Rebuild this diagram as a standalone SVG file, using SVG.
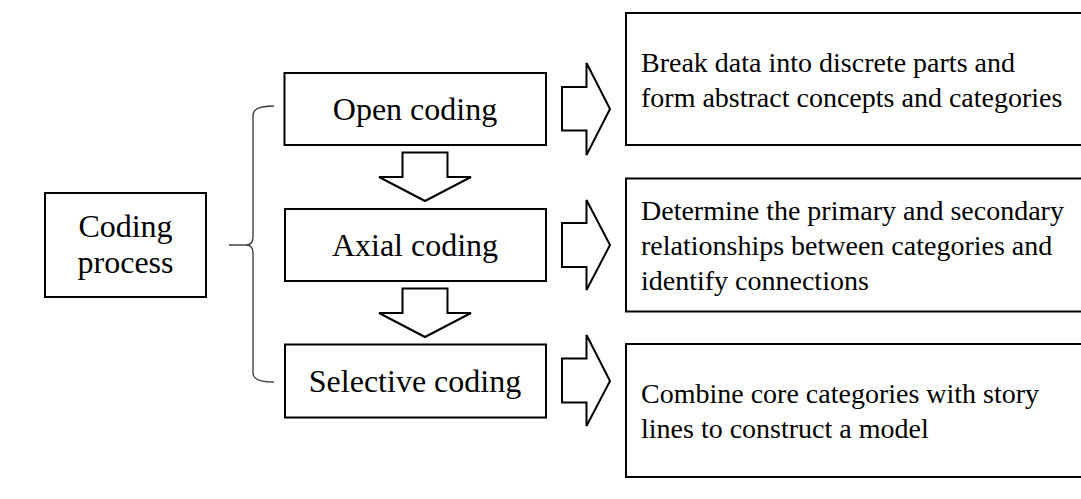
<svg xmlns="http://www.w3.org/2000/svg" width="1081" height="499" viewBox="0 0 1081 499">
<style>
.box{fill:#fff;stroke:#000;stroke-width:2}
.arr{fill:#fff;stroke:#000;stroke-width:2;stroke-linejoin:miter}
.brace{fill:none;stroke:#444;stroke-width:1.4}
.t1{font-family:"Liberation Serif","Times New Roman",serif;font-size:32px;fill:#000;text-anchor:middle}
.t2{font-family:"Liberation Serif","Times New Roman",serif;font-size:28px;fill:#000}
</style>
<rect width="1081" height="499" fill="#fff"/>
<g id="coding-process">
<rect class="box" x="45" y="193" width="161" height="104"/>
<text class="t1" x="125.5" y="237">Coding</text>
<text class="t1" x="125.5" y="273">process</text>
</g>
<g id="open-coding">
<rect class="box" x="284.5" y="73" width="261.5" height="72"/>
<text class="t1" x="415" y="120">Open coding</text>
</g>
<g id="axial-coding">
<rect class="box" x="285" y="209" width="261" height="72"/>
<text class="t1" x="415" y="256">Axial coding</text>
</g>
<g id="selective-coding">
<rect class="box" x="285" y="344.5" width="261" height="73"/>
<text class="t1" x="415" y="392">Selective coding</text>
</g>
<g id="desc-open">
<rect class="box" x="626" y="13" width="460" height="132"/>
<text class="t2" x="641" y="71.5">Break data into discrete parts and</text>
<text class="t2" x="641" y="106.5">form abstract concepts and categories</text>
</g>
<g id="desc-axial">
<rect class="box" x="626" y="178.5" width="460" height="133"/>
<text class="t2" x="641" y="220">Determine the primary and secondary</text>
<text class="t2" x="641" y="255">relationships between categories and</text>
<text class="t2" x="641" y="290">identify connections</text>
</g>
<g id="desc-selective">
<rect class="box" x="626" y="344" width="460" height="133"/>
<text class="t2" x="641" y="402.5">Combine core categories with story</text>
<text class="t2" x="641" y="437.5">lines to construct a model</text>
</g>
<g id="connectors">
<path class="brace" d="M274,106 Q253,106 253,115 L253,237 Q253,245 246,245 Q253,245 253,253 L253,373 Q253,382 274,382 M229,245 L246,245"/>
<polygon class="arr" points="402.5,152.5 447.5,152.5 447.5,177 471,177 425,201 379,177 402.5,177"/>
<polygon class="arr" points="402.5,288.5 447.5,288.5 447.5,313 471,313 425,337 379,313 402.5,313"/>
<polygon class="arr" points="562,87 586.5,87 586.5,63 610,109 586.5,155 586.5,130.5 562,130.5"/>
<polygon class="arr" points="562,223 586.5,223 586.5,200 610,245 586.5,290 586.5,267 562,267"/>
<polygon class="arr" points="562,358.5 586.5,358.5 586.5,335 610,381 586.5,426 586.5,402.5 562,402.5"/>
</g>
</svg>
